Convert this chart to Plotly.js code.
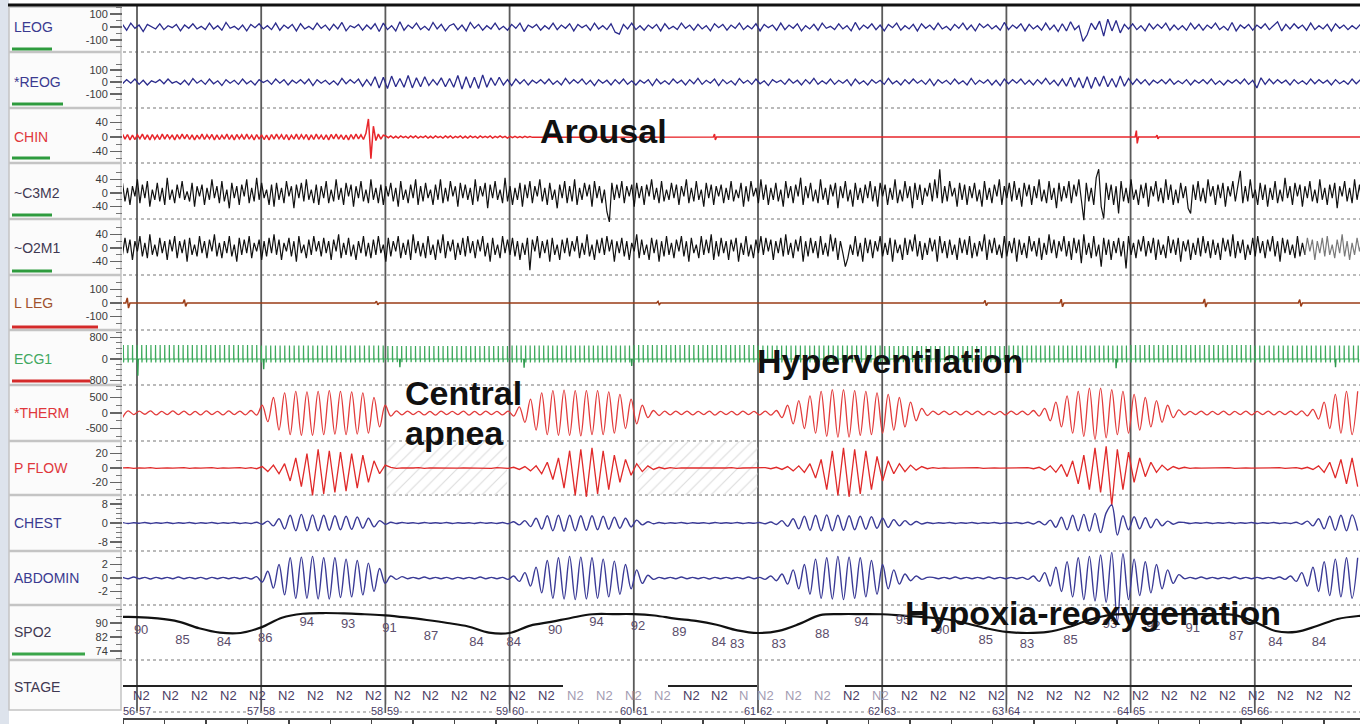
<!DOCTYPE html>
<html><head><meta charset="utf-8">
<script src="https://cdn.plot.ly/plotly-3.0.1.min.js"></script>
<style>html,body{margin:0;padding:0;background:#fff}#chart{width:1360px;height:724px}</style>
</head><body><div id="chart"></div>
<script>
const W = 1360, H = 724;
const PXS = 124.2 / 30;      // px per second of the recording
const X0PX = 137;            // px of t = 0 (first epoch line)
const tOf = px => (px - X0PX) / PXS;

// ================= DATA =================
const epochLines = [0, 30, 60, 90, 120, 150, 180, 210, 240, 270];
const pageLeft  = [56, 57, 58, 59, 60, 61, 62, 63, 64, 65];
const pageRight = [57, 58, 59, 60, 61, 62, 63, 64, 65, 66];

// sampling of the value arrays (start time, step in seconds)
const EOG_T0 = -3.5, EOG_DT = 1.0;
const EEG_T0 = -3.5, EEG_DT = 0.6;
const RESP_T0 = -3.5, RESP_DT = 1.35;
const SPO2_T0 = -5, SPO2_DT = 5;

const leog = [
20,-25,30,-10,15,-35,20,5,-15,25,-20,10,-5,20,-30,15,-10,25,-15,5,
-20,30,-15,10,-25,35,-10,5,-20,15,-30,20,-5,25,-15,10,-20,30,-25,15,
-10,20,-30,25,-15,5,-20,30,-10,15,-25,20,-15,35,-30,10,-5,20,-25,15,
-15,25,-35,30,-20,10,-30,40,-25,15,-10,30,-20,5,-25,35,-15,20,-30,10,
25,-20,15,-30,35,-10,20,-25,10,-15,30,-20,5,-25,20,-10,30,-35,15,-5,
20,-25,10,-15,30,-20,15,-10,25,-30,20,-5,15,-25,30,-15,10,-20,25,-40,
-55,20,-15,30,-20,10,-25,15,-10,20,-30,25,-15,5,-20,30,-10,15,-25,20,
-15,10,-30,25,-5,20,-25,15,-10,30,-20,10,-15,25,-30,20,-5,15,-25,30,
-20,15,-10,25,-30,10,-15,20,-25,30,-10,5,-20,25,-15,10,-30,35,-20,15,
-10,25,-20,15,-30,20,-5,30,-25,10,-15,20,-30,25,-10,15,-20,30,-15,5,
-25,20,-10,30,-20,15,-30,25,-5,20,-15,10,-25,35,-20,15,-10,25,-30,20,
-15,10,-25,30,-20,15,-35,25,-30,40,-20,10,-110,-60,30,-20,45,-70,60,-30,
50,-45,20,-15,25,-20,10,-30,25,-15,20,-10,30,-25,15,-20,10,-25,30,-15,
20,-25,15,-10,30,-20,5,-25,35,-30,15,-10,20,-25,15,-10,25,-20,10,40,
-30,20,-15,25,-10,15,-25,30,-20,10,-15,20,-30,25,-10,15,-20,10,-15,20];

const reog = [
-15,20,-10,25,-20,15,-25,10,-5,20,-15,25,-10,5,-20,15,-25,30,-10,15,
-20,25,-15,10,-30,20,-10,15,-20,25,-15,10,-25,20,-5,15,-20,25,-10,20,
-25,15,-10,20,-15,25,-30,20,-10,15,-20,10,-25,30,-15,20,-10,25,-35,20,
-30,45,-50,40,-55,50,-40,30,-45,55,-50,35,-40,45,-30,20,-25,35,-40,30,
-45,55,-60,45,-50,40,-55,60,-45,35,-30,40,-25,20,-30,25,-15,20,-25,15,
-10,20,-15,25,-20,10,-25,30,-15,20,-10,25,-20,15,-30,20,-10,15,-25,20,
-15,25,-20,10,-25,15,-10,20,-30,25,-15,10,-20,25,-10,15,-25,20,-15,30,
-20,15,-10,25,-30,20,-15,10,-25,30,-10,15,-20,25,-15,10,-30,20,-5,15,
-20,25,-10,15,-25,20,-15,30,-20,10,-15,25,-20,15,-10,20,-30,25,-15,10,
-25,20,-10,15,-20,30,-15,10,-25,20,-15,25,-10,15,-20,25,-30,20,-10,15,
-20,25,-15,10,-25,30,-20,15,-10,20,-25,15,-30,25,-15,20,-10,25,-20,15,
-25,20,-15,30,-20,15,-30,25,-35,40,-45,35,-50,45,-55,40,-35,50,-40,30,
-45,50,-35,30,-20,25,-15,20,-25,15,-10,20,-15,25,-20,10,-15,20,-25,15,
-10,20,-15,25,-20,10,-25,15,-10,20,-15,25,-20,15,-50,35,-20,25,-15,20,
-10,15,-25,20,-15,10,-20,25,-15,20,-10,15,-25,20,-15,10,-20,25,-15,20];

// chin: active (noisy) part on the EEG sampling, then quiet with a few blips
const chinActive = [
8,-6,7,-8,5,-7,6,-5,8,-7,6,-8,7,-6,5,-7,8,-6,7,-5,6,-8,7,-6,8,-5,7,-7,6,-8,
5,-6,8,-7,6,-5,7,-8,6,-7,5,-6,8,-7,6,-8,7,-5,6,-7,8,-6,5,-8,7,-6,6,-7,5,-8,
7,-6,8,-5,6,-7,7,-8,5,-6,8,-7,6,-5,7,-8,6,-7,8,-6,5,-7,6,-8,7,-5,8,-6,6,-7,
5,-8,7,-6,8,-5,6,-7,10,50,-60,30,-10,8,-6,5,
3,-2,3,-3,2,-3,3,-2,2,-3,3,-2,3,-3,2,-2,3,-3,2,-3,3,-2,2,-3,3,-2,3,-3,2,-2,
3,-3,2,-3,3,-2,2,-3,3,-2,2,-2,3,-3,2,-2,3,-2,2,-3,2,-2,2,-2,1,-2,2,-1,1,-1];
const chinEvT = [139.6, 241.5, 246.5];
const chinEvA = [8, 18, 5];

const c3m2 = [
30,-25,15,-35,20,-10,40,-30,25,-15,35,-40,10,-20,30,-25,15,-35,45,-20,
10,-30,25,-15,35,-20,5,-25,30,-40,20,-10,25,-35,15,-20,40,-15,20,-30,
35,-25,10,-45,30,-15,20,-35,25,-10,40,-30,15,-25,45,-20,30,-15,10,-35,
25,-40,30,-20,15,-30,35,-10,20,-45,25,-15,30,-25,40,-20,10,-30,25,-35,
20,-15,35,-30,10,-25,40,-20,15,-35,30,-10,25,-40,20,-15,35,-25,10,-30,
40,-20,15,-30,25,-35,20,-10,30,-25,15,-40,35,-20,10,-30,25,-15,40,-35,
20,-25,30,-15,10,-35,25,-20,40,-30,15,-25,35,-10,20,-40,30,-15,25,-20,
15,-35,40,-25,20,-10,30,-45,25,-15,35,-20,10,-30,45,-25,20,-35,15,-20,
30,-40,25,-15,35,-30,20,-10,40,-25,15,-35,30,-20,10,-45,25,-15,35,-30,
20,-25,40,-35,15,-20,30,-10,25,-40,35,-15,20,-30,10,-55,-85,30,-20,25,
-15,35,-30,20,-10,25,-40,30,-15,20,-35,25,-10,40,-20,15,-30,35,-25,10,
-20,30,-15,25,-35,20,-10,40,-30,15,-25,35,-20,10,-40,30,-15,25,-35,20,
-10,25,-30,15,-20,35,-25,10,-15,30,-40,20,-25,35,-10,15,-30,40,-20,25,
-35,15,-20,30,-25,10,-40,35,-15,20,-30,25,-10,45,-35,20,-15,30,-25,10,
-30,40,-20,15,-35,25,-10,30,-45,20,-15,35,-25,10,-40,30,-20,15,-30,25,
-15,35,-25,20,-40,30,-10,25,-35,15,-20,40,-30,10,-25,35,-15,20,-45,30,
-20,25,-35,15,-10,30,-25,40,-15,70,-30,20,-25,35,-10,15,-40,30,-20,25,
-35,20,-15,30,-25,10,-40,35,-20,15,-30,25,-10,40,-35,20,-15,30,-25,35,
-20,15,-40,30,-10,25,-35,20,-15,40,-25,10,-30,35,-20,15,-45,30,-25,20,
-15,35,-30,25,-10,40,-20,-80,30,-25,15,-35,45,70,-40,-75,30,-20,25,-35,
20,-60,35,-25,15,-30,40,-20,10,-35,25,-15,30,-40,20,-10,35,-25,15,-30,
40,-20,25,-35,10,-30,30,-15,20,-45,-60,25,-20,35,-25,15,-30,40,-10,20,
-35,25,-15,30,-40,20,-10,35,-25,15,65,-30,20,-25,40,-15,10,-35,30,-20,
25,-40,15,-20,35,-30,10,-25,45,-15,20,-35,30,-10,25,-40,20,-15,35,-25,
10,-30,40,-20,15,-35,25,-15,30,-45,20,-10,35,-25,15,-30,40,-20,25,-35];

const o2m1 = [
-20,30,-15,25,-35,20,-10,35,-25,15,-30,40,-20,10,-25,30,-15,20,-35,25,
-10,35,-30,20,-15,25,-40,30,-20,10,-25,35,-15,20,-30,25,-10,40,-25,15,
-30,20,-15,35,-25,10,-40,30,-20,25,-15,35,-30,15,-10,25,-35,20,-25,30,
-15,40,-20,25,-35,15,-10,30,-25,20,-40,35,-15,10,-30,25,-20,35,-10,20,
-25,30,-15,20,-35,25,-10,40,-30,15,-20,30,-25,10,-35,20,-15,35,-25,15,
-30,25,-20,35,-15,10,-40,30,-25,20,-10,35,-30,15,-20,25,-35,40,-15,20,
-25,15,-30,35,-20,10,-35,25,-15,40,-30,20,-10,25,-35,15,-20,30,-25,35,
-15,20,-30,25,-10,35,-25,15,-40,30,-20,10,-30,35,-15,25,-20,30,-25,20,
-35,15,-20,30,-65,25,-10,35,-30,20,-15,25,-40,30,-20,10,-35,25,-15,30,
-25,20,-10,35,-30,15,-20,40,-25,10,-35,25,-15,30,-20,35,-10,25,-40,20,
-15,30,-25,20,-35,15,-10,40,-30,25,-20,10,-35,30,-15,25,-40,20,-25,35,
-20,15,-30,25,-10,35,-25,20,-40,30,-15,10,-30,35,-20,25,-15,40,-35,20,
-25,30,-15,20,-35,25,-10,30,-40,15,-20,35,-25,10,-30,25,-15,35,-20,30,
-10,25,-35,20,-15,30,-25,40,-20,15,-30,25,-10,35,-40,20,-25,30,-15,20,
-30,35,-20,15,-25,40,-10,30,-35,20,-15,-55,-30,10,-20,35,-25,15,-40,30,
-15,25,-30,20,-10,35,-25,15,-20,30,-40,25,-15,10,-35,30,-20,25,-10,40,
-25,20,-35,15,-20,30,-10,25,-40,35,-15,20,-30,25,-20,10,-35,30,-15,25,
-20,35,-30,15,-25,20,-10,40,-35,25,-15,30,-20,10,-30,35,-25,20,-15,30,
-40,25,-20,15,-30,35,-10,20,-25,30,-35,15,-20,40,-15,25,-30,20,-10,35,
-25,20,-35,30,-15,25,-45,40,-20,15,-30,35,-25,10,-55,30,-20,25,-35,20,
-15,30,-25,20,-60,35,-20,15,-30,25,-10,35,-25,20,-15,30,-35,25,-20,10,
-30,35,-15,25,-20,30,-40,20,-10,25,-35,15,-20,30,-25,35,-15,20,-30,25,
-20,15,-35,30,-10,25,-25,40,-30,20,-15,25,-35,10,-20,30,-25,35,-15,20,
-30,25,-10,35,-25,20,-40,30,-15,25,-20,10,-30,35,-25,15,-20,30,-10,25,
-35,20,-15,30,-25,35,-20,10,-30,25,-15,40,-25,20,-35,15,-20,30,-10,25];

const legEvT = [-2.2, 11.6, 58, 126, 205, 223.4, 258, 281];
const legEvA = [38, 25, 14, 12, 20, 28, 30, 25];

const ecgHr = [54, 53, 54, 55, 54, 53, 54, 55, 54, 53];          // bpm per epoch
const ecgR  = [520, 500, 480, 500, 520, 500, 480, 500, 520, 500]; // R amplitude per epoch
const ecgArtT = [0.2, 30.6, 63.5, 93.5, 119.5, 236.5, 289.5];
const ecgArtV = [-620, -380, -300, -320, -260, -340, -300];
const ecgShapeDt = [-0.12, -0.03, 0, 0.05, 0.12];
const ecgShapeK  = [0, 0.05, 1, -0.25, 0];

const therm = [
-150,70,-50,60,-40,70,-60,50,-50,70,-50,60,-60,50,-60,70,-50,50,-60,70,-50,60,-60,80,-70,
250,-280,500,-550,650,-700,700,-720,680,-720,700,-700,720,-680,700,-700,680,-680,650,-650,500,-450,250,
-100,70,-60,60,-50,50,-60,50,-70,60,-50,50,-50,60,-70,50,-60,60,-50,50,-60,60,
-100,200,-300,450,-550,650,-700,720,-720,740,-720,720,-740,720,-700,720,-700,680,-650,600,-500,450,-350,250,-150,80,
-80,60,-60,60,-50,60,-60,50,-50,60,-70,50,-50,50,-60,60,-50,50,-60,60,-70,
80,-150,250,-350,400,-500,550,-650,700,-750,750,-780,750,-780,720,-720,700,-700,650,-650,600,-550,500,-450,350,-250,150,-80,
60,-50,60,-50,50,-60,60,-50,60,-60,50,-50,50,-60,60,-50,60,-60,80,-100,
150,-250,350,-450,550,-650,700,-750,800,-850,800,-800,750,-700,700,-650,600,-550,500,-450,400,-300,250,-150,100,
-60,50,-50,60,-60,50,-50,60,-60,50,-50,60,-60,50,-50,60,-60,50,-50,60,-60,70,-90,120,
-200,350,-500,600,-650,700,-700,700];

const pflow = [
0,0.5,-0.5,0.3,-0.3,0.5,-0.5,0,0.3,-0.3,0,0.5,-0.5,0.3,-0.3,0,0.5,-0.5,0.3,-0.3,0,0.5,-0.5,0.5,-1,
2,-5,4,-8,6,-18,14,-26,20,-38,26,-36,24,-34,22,-32,20,-28,18,-20,10,-8,4,
1,-0.5,0.3,-0.3,0,0.5,-0.5,0.3,0,-0.3,0.3,0,-0.3,0.3,0,-0.3,0.3,0,-0.5,0.5,0,-0.5,
1,-2,2,-4,3,-8,8,-16,14,-28,24,-38,26,-40,28,-36,24,-30,18,-20,12,-10,6,-5,3,-2,
1,-1,0.5,-0.5,0.3,-0.3,0,0.3,-0.3,0,0.3,-0.3,0,0.5,-0.5,0,0.3,-0.3,0,0.5,-1,
1,-2,2,-4,3,-6,6,-14,12,-30,24,-38,28,-40,26,-36,24,-30,16,-18,10,-8,6,-5,4,-3,2,-1,
0.5,-0.5,0.3,-0.3,0,0.3,-0.3,0,0.5,-0.5,0,0.3,-0.3,0,0.3,-0.3,0,0.5,-1,1,
-3,3,-6,5,-12,10,-22,18,-30,28,-34,30,-52,26,-30,22,-20,14,-12,8,-6,4,-3,2,-1,
1,-0.5,0.3,-0.3,0,0.3,-0.3,0,0.5,-0.5,0,0.3,-0.3,0,0.3,-0.3,0,0.5,-0.5,0,0.5,-1,1,-2,
3,-6,8,-14,12,-22,14,-26];

const chest = [
0.2,-0.2,0.1,-0.1,0.2,-0.2,0.1,-0.1,0.2,-0.2,0.1,-0.1,0.2,-0.2,0.1,-0.1,0.2,-0.2,0.1,-0.1,0.2,-0.2,0.1,-0.2,0.3,
-0.5,0.8,-1.2,1.8,-2.5,3.2,-3.2,3.6,-3.2,3.4,-3.2,3.2,-3,3,-2.8,2.8,-2.6,2.5,-2.2,2,-1.6,1,-0.5,
0.3,-0.2,0.2,-0.1,0.1,-0.2,0.2,-0.1,0.1,-0.1,0.2,-0.2,0.1,-0.1,0.1,-0.2,0.2,-0.1,0.1,-0.2,0.2,-0.3,
0.5,-0.8,1,-1.5,2,-2.5,3,-3.2,3.2,-3.4,3.2,-3.2,3,-3,3,-2.8,2.8,-2.6,2.4,-2.2,2,-1.6,1.2,-0.8,0.5,-0.3,
0.2,-0.2,0.1,-0.1,0.2,-0.2,0.1,-0.1,0.1,-0.2,0.2,-0.1,0.1,-0.1,0.2,-0.2,0.1,-0.1,0.2,-0.3,0.4,
-0.6,1,-1.4,1.8,-2.4,2.8,-3,3.2,-3.2,3.4,-3.2,3.2,-3,3,-2.8,2.8,-2.6,2.6,-2.2,2,-1.8,1.4,-1.2,1,-0.8,0.6,-0.4,0.2,
-0.2,0.1,-0.1,0.2,-0.2,0.1,-0.1,0.2,-0.2,0.1,-0.1,0.2,-0.2,0.1,-0.1,0.2,-0.2,0.3,-0.4,0.6,
-0.8,1.2,-1.8,2.4,-2.8,3.2,-3.2,3.6,-3.4,4,-4,4.2,7.5,-5,3,-2.8,2.6,-2.4,2.2,-2,1.6,-1.2,0.8,-0.5,0.3,
0.2,-0.2,0.1,-0.1,0.2,-0.2,0.1,-0.1,0.2,-0.2,0.1,-0.1,0.2,-0.2,0.1,-0.1,0.2,-0.2,0.1,-0.2,0.3,-0.5,0.8,-1.2,
1.8,-2.4,2.8,-3,3.2,-3.2,3.4,-3.2];

const abdomin = [
0.1,-0.1,0.15,-0.1,0.1,-0.15,0.1,-0.1,0.1,-0.1,0.15,-0.1,0.1,-0.1,0.1,-0.15,0.1,-0.1,0.1,-0.1,0.1,-0.1,0.1,-0.15,0.2,
-0.6,1,-1.5,2,-2.5,3,-3,3.1,-3,3.2,-3.1,3,-3.1,3,-2.9,2.8,-2.8,2.6,-2.5,2.2,-2,1.4,-0.8,
0.3,-0.2,0.2,-0.1,0.1,-0.1,0.15,-0.1,0.1,-0.1,0.1,-0.15,0.1,-0.1,0.1,-0.1,0.15,-0.1,0.1,-0.1,0.1,-0.2,
0.3,-0.5,0.8,-1.2,1.6,-2.2,2.6,-3,3,-3.1,3.2,-3.2,3.1,-3.1,3,-3,2.8,-2.8,2.5,-2.4,2,-1.6,1.2,-0.8,0.4,-0.2,
0.1,-0.1,0.1,-0.1,0.15,-0.1,0.1,-0.1,0.1,-0.15,0.1,-0.1,0.1,-0.1,0.1,-0.1,0.15,-0.1,0.1,-0.2,0.3,
-0.4,0.6,-0.9,1.2,-1.6,2,-2.4,2.8,-3,3,-3.1,3.2,-3.2,3.1,-3,3,-2.8,2.6,-2.4,2,-1.6,1.2,-0.9,0.6,-0.4,0.3,-0.2,0.1,
0.1,-0.1,0.1,-0.1,0.15,-0.1,0.1,-0.1,0.1,-0.1,0.15,-0.1,0.1,-0.1,0.1,-0.1,0.1,-0.2,0.3,-0.5,
0.8,-1.2,1.6,-2,2.4,-2.8,3,-3.2,3.2,-3.4,3.4,-3.6,3.8,-6.5,3.6,-3.2,2.8,-2.6,2.4,-2.2,2,-1.6,1.2,-0.8,0.5,
-0.1,0.1,-0.1,0.15,-0.1,0.1,-0.1,0.1,-0.1,0.15,-0.1,0.1,-0.1,0.1,-0.1,0.1,-0.1,0.15,-0.2,0.3,-0.5,0.8,-1.2,1.6,
-2,2.4,-2.6,2.8,-2.8,3,-3,3];

const spo2 = [93.4,93.4,92.6,90.8,87.0,84.5,84.3,87.5,93.0,95.3,95.7,95.5,95.0,94.4,93.2,91.7,
90.0,88.0,84.5,84.3,88.5,90.6,93.0,95.0,95.1,95.1,94.3,92.5,91.2,89.0,85.8,84.3,85.5,89.5,
94.5,95.1,95.1,95.0,94.2,93.4,92.3,90.0,87.1,84.9,84.3,84.9,87.7,91.7,94.6,95.1,95.1,95.1,
95.1,95.1,94.6,90.6,85.4,84.9,88.3,92.3,94.0,94.5];

const spo2LabelT = [1,11,21,31,41,51,61,71,82,91,101,111,121,131,140.5,145,155,165.5,175,185,194.5,205,215,225.5,235,245.5,255,265.5,275,285.5];
const spo2LabelV = [90,85,84,86,94,93,91,87,84,84,90,94,92,89,84,83,83,88,94,95,90,85,83,85,93,92,91,87,84,84];

const stageLabels = ['N2','N2','N2','N2','N2','N2','N2','N2','N2','N2','N2','N2','N2','N2','N2','N2','N2','N2','N2','N2','N2','N',
                     'N2','N2','N2','N2','N2','N2','N2','N2','N2','N2','N2','N2','N2','N2','N2','N2','N2','N2','N2','N2','N2'];
const stageLight = [15,16,17,18,21,22,23,24,26];

const apneaT = [74.9, 135.4];   // scored event centres (s)
const apneaDur = [29, 29];

// ================= LAYOUT HELPERS =================
const FONT = 'Liberation Sans, Arial, sans-serif';
const xp = px => px / W;
const yp = py => 1 - py / H;
const grid = (t0, dt, n) => Array.from({length: n}, (_, i) => t0 + i * dt);

const rowSep = [52,108,163,219,275,330,385,441,495,551,605,660];
const chans = [
 {label:'LEOG',   c:27,  s:0.13,  ticks:[-100,0,100], minor:[-150,-50,50,150], lc:'#3a3a90'},
 {label:'*REOG',  c:82,  s:0.118, ticks:[-100,0,100], minor:[-150,-50,50,150], lc:'#3a3a90'},
 {label:'CHIN',   c:137, s:0.36,  ticks:[-40,0,40], minor:[-60,-20,20,60], lc:'#e0383c'},
 {label:'~C3M2',  c:193, s:0.34,  ticks:[-40,0,40], minor:[-60,-20,20,60], lc:'#3f3852'},
 {label:'~O2M1',  c:248, s:0.34,  ticks:[-40,0,40], minor:[-60,-20,20,60], lc:'#3f3852'},
 {label:'L LEG',  c:303, s:0.135, ticks:[-100,0,100], minor:[-150,-50,50,150], lc:'#a0522d'},
 {label:'ECG1',   c:359, s:0.027, ticks:[-800,0,800], minor:[-1000,-600,-400,-200,200,400,600,1000], lc:'#41a85f'},
 {label:'*THERM', c:413, s:0.031, ticks:[-500,0,500], minor:[-750,-250,250,750], lc:'#e0383c'},
 {label:'P FLOW', c:468, s:0.72,  ticks:[-20,0,20], minor:[-30,-10,10,30], lc:'#e0383c'},
 {label:'CHEST',  c:523, s:2.4,   ticks:[-8,0,8], minor:[-10,-6,-4,-2,2,4,6,10], lc:'#3a3a90'},
 {label:'ABDOMIN',c:578, s:6.75,  ticks:[-2,0,2], minor:[-3,-1,1,3], lc:'#3a3a90'},
 {label:'SPO2',   c:632, top:605, bot:660, refV:90, refPx:623, s:1.75, ticks:[74,82,90], minor:[70,78,86,94,98], lc:'#3f3852'}
];
const axId = i => i === 0 ? 'y' : 'y' + (i + 1);
const axKey = i => i === 0 ? 'yaxis' : 'yaxis' + (i + 1);

const layout = {
  width: W, height: H, margin: {l:0, r:0, t:0, b:0},
  paper_bgcolor: '#ffffff', plot_bgcolor: 'rgba(0,0,0,0)', showlegend: false,
  font: {family: FONT},
  xaxis: {domain:[123/W, 1], range:[tOf(123), tOf(1360)], anchor:'free', position: yp(718),
          showline:true, linecolor:'#444', linewidth:1.5, ticks:'outside', ticklen:6, tickwidth:1.5,
          tickcolor:'#444', tick0:6.7, dtick:10, showticklabels:false, showgrid:false, zeroline:false,
          fixedrange:true, automargin:false},
  shapes: [], annotations: []
};

chans.forEach((ch, i) => {
  let top, bot, rTop, rBot;
  if (ch.top !== undefined) {
    top = ch.top; bot = ch.bot;
    rTop = ch.refV + (ch.refPx - top) / ch.s; rBot = ch.refV - (bot - ch.refPx) / ch.s;
  } else {
    top = Math.max(0, ch.c - 85); bot = Math.min(H, ch.c + 85);
    rTop = (ch.c - top) / ch.s; rBot = (ch.c - bot) / ch.s;
  }
  ch.vAt = py => ch.top !== undefined ? ch.refV + (ch.refPx - py) / ch.s : (ch.c - py) / ch.s;
  layout[axKey(i)] = {
    domain:[yp(bot), yp(top)], range:[rBot, rTop], anchor:'x',
    tickmode:'array', tickvals:ch.ticks, ticktext:ch.ticks.map(String),
    ticks:'outside', ticklen:12, tickwidth:1.5, tickcolor:'#666',
    tickfont:{family:FONT, size:11, color:'#3a3a3a'},
    minor:{tickmode:'array', tickvals:ch.minor, ticks:'outside', ticklen:6, tickwidth:1, tickcolor:'#777', showgrid:false},
    showgrid:false, zeroline:false, showline:false, fixedrange:true, automargin:false
  };
  layout.annotations.push({xref:'paper', yref:'paper', x:xp(12), y:yp(ch.c), xanchor:'left', yanchor:'middle',
    text:ch.label, showarrow:false, font:{family:FONT, size:14, color:ch.lc}});
});
// hidden axis for SpO2 value labels (2 px per % below the trace)
layout.yaxis13 = {domain:[yp(660), yp(605)], range:[75.5, 103], anchor:'x', visible:false, fixedrange:true};
layout.annotations.push({xref:'paper', yref:'paper', x:xp(12), y:yp(687), xanchor:'left', yanchor:'middle',
  text:'STAGE', showarrow:false, font:{family:FONT, size:14, color:'#3f3852'}});

// ---- shapes ----
const S = layout.shapes;
S.push({type:'rect', xref:'paper', yref:'paper', x0:0, x1:xp(9), y0:0, y1:1, fillcolor:'#dde3ec', line:{width:0}, layer:'below'});
S.push({type:'rect', xref:'paper', yref:'paper', x0:xp(9), x1:xp(121), y0:yp(710), y1:yp(7), fillcolor:'#fbfbfb', line:{color:'#c4c4c4', width:1.5}, layer:'below'});
rowSep.forEach(py => {
  S.push({type:'line', xref:'paper', yref:'paper', x0:xp(9), x1:xp(121), y0:yp(py), y1:yp(py), line:{color:'#c4c4c4', width:2.5}, layer:'below'});
  S.push({type:'line', xref:'paper', yref:'paper', x0:xp(123), x1:1, y0:yp(py), y1:yp(py), line:{color:'#a4a4a4', width:1.5, dash:'dot'}, layer:'below'});
});
S.push({type:'line', xref:'paper', yref:'paper', x0:xp(8), x1:1, y0:yp(5), y1:yp(5), line:{color:'#111', width:3}});
epochLines.forEach(t => S.push({type:'line', xref:'x', yref:'paper', x0:t, x1:t, y0:yp(713), y1:yp(6), line:{color:'#5a5a5a', width:1.8}, layer:'below'}));
[[123,563],[668,757],[845,1352]].forEach(seg => S.push({type:'line', xref:'paper', yref:'paper', x0:xp(seg[0]), x1:xp(seg[1]), y0:yp(686), y1:yp(686), line:{color:'#222', width:2}}));
S.push({type:'line', xref:'paper', yref:'paper', x0:xp(123), x1:1, y0:yp(712), y1:yp(712), line:{color:'#aaa', width:1.5, dash:'dot'}, layer:'below'});
[[49,52,'#2e9b3e'],[104,63,'#2e9b3e'],[158,50,'#2e9b3e'],[215,52,'#2e9b3e'],[271,52,'#2e9b3e'],[327,98,'#d42a2a'],[381,90,'#d42a2a'],[654,85,'#3aa54a']]
  .forEach(b => S.push({type:'line', xref:'paper', yref:'paper', x0:xp(12), x1:xp(b[1]), y0:yp(b[0]), y1:yp(b[0]), line:{color:b[2], width:3}}));

// ---- traces ----
const traces = [];
const line = (x, y, i, color, width, shape) => traces.push({type:'scatter', mode:'lines', x, y, xaxis:'x', yaxis:axId(i),
  line:{color, width, shape: shape || 'linear'}, hoverinfo:'skip', cliponaxis:false});

// hatched scored-event areas in P FLOW
traces.push({type:'bar', x:apneaT, width:apneaDur, y:apneaT.map(() => chans[8].vAt(441) - chans[8].vAt(495)),
  base:apneaT.map(() => chans[8].vAt(495)), xaxis:'x', yaxis:axId(8), hoverinfo:'skip',
  marker:{color:'rgba(0,0,0,0)', line:{width:0}, pattern:{shape:'/', fgcolor:'#dcdcdc', bgcolor:'rgba(0,0,0,0)', size:9, solidity:0.12}}});

line(grid(EOG_T0, EOG_DT, leog.length), leog, 0, '#2b2b8c', 1.3);
line(grid(EOG_T0, EOG_DT, reog.length), reog, 1, '#2b2b8c', 1.3);

// chin
{
  const x = grid(EEG_T0, EEG_DT, chinActive.length), y = chinActive.slice();
  chinEvT.forEach((t, k) => { x.push(t - 0.4, t - 0.1, t + 0.1, t + 0.4); y.push(0, chinEvA[k], -chinEvA[k], 0); });
  x.push(tOf(1362)); y.push(0);
  line(x, y, 2, '#e8262b', 1.5);
}
line(grid(EEG_T0, EEG_DT, c3m2.length), c3m2, 3, '#111', 1.2);
{
  const xs = grid(EEG_T0, EEG_DT, o2m1.length), cut = 476;
  line(xs.slice(0, cut + 1), o2m1.slice(0, cut + 1), 4, '#111', 1.2);
  line(xs.slice(cut), o2m1.slice(cut), 4, '#7a7a7a', 1.2);
}
// L LEG
{
  const x = [tOf(123)], y = [0];
  legEvT.forEach((t, k) => { x.push(t - 0.5, t - 0.15, t + 0.15, t + 0.5); y.push(0, legEvA[k], -legEvA[k], 0); });
  x.push(tOf(1362)); y.push(0);
  line(x, y, 5, '#9b3d17', 1.5);
}
// ECG
{
  const x = [], y = [];
  let t = -3.3;
  while (t < tOf(1362)) {
    const e = Math.min(9, Math.max(0, Math.floor(t / 30)));
    ecgShapeDt.forEach((d, j) => { x.push(t + d); y.push(ecgR[e] * ecgShapeK[j]); });
    t += 60 / ecgHr[e];
  }
  line(x, y, 6, '#3daa5c', 1.2);
  const ax = [], ay = [];
  ecgArtT.forEach((t, k) => { ax.push(t - 0.08, t, t + 0.1, null); ay.push(0, ecgArtV[k], 0, null); });
  line(ax, ay, 6, '#2f9a4e', 1.4);
}
line(grid(RESP_T0, RESP_DT, therm.length), therm, 7, '#e23b3b', 1.3, 'spline');
line(grid(RESP_T0, RESP_DT, pflow.length), pflow, 8, '#e02a2a', 1.3);
line(grid(RESP_T0, RESP_DT, chest.length), chest, 9, '#3a3a96', 1.4, 'spline');
line(grid(RESP_T0, RESP_DT, abdomin.length), abdomin, 10, '#3a3a96', 1.4, 'spline');
line(grid(SPO2_T0, SPO2_DT, spo2.length), spo2, 11, '#111', 2.2, 'spline');
traces.push({type:'scatter', mode:'text', x:spo2LabelT, y:spo2LabelV, text:spo2LabelV.map(String), xaxis:'x', yaxis:'y13',
  textfont:{family:FONT, size:13, color:'#5b4d6b'}, hoverinfo:'skip', cliponaxis:false});

// ---- stage row ----
const A = layout.annotations;
const stageT = [];
for (let i = 0; i < 21; i++) stageT.push(1.2 + i * 6.98);
stageT.push(146.4);
for (let i = 0; i < 21; i++) stageT.push(151.7 + i * 6.98);
stageLabels.forEach((s, i) => A.push({xref:'x', yref:'paper', x:stageT[i], y:yp(695), xanchor:'center', yanchor:'middle',
  text:s, showarrow:false, font:{family:FONT, size:13, color: stageLight.includes(i) ? '#a39cb2' : '#4a3c64'}}));
epochLines.forEach((t, m) => {
  A.push({xref:'x', yref:'paper', x:t, y:yp(711), xanchor:'right', yanchor:'middle', xshift:-1, text:String(pageLeft[m]),
    showarrow:false, font:{family:FONT, size:11, color:'#4a3c64'}, bgcolor:'#fff', borderpad:0});
  A.push({xref:'x', yref:'paper', x:t, y:yp(711), xanchor:'left', yanchor:'middle', xshift:1, text:String(pageRight[m]),
    showarrow:false, font:{family:FONT, size:11, color:'#4a3c64'}, bgcolor:'#fff', borderpad:0});
});

// ---- event annotations ----
const big = (text, pxL, pyC) => A.push({xref:'paper', yref:'paper', x:xp(pxL), y:yp(pyC), xanchor:'left', yanchor:'middle',
  text:'<b>' + text + '</b>', showarrow:false, font:{family:FONT, size:34, color:'#111'}});
big('Arousal', 538, 131);
big('Central', 403, 393);
big('apnea', 403, 433);
big('Hyperventilation', 755, 361);
big('Hypoxia-reoxygenation', 903, 613);

Plotly.newPlot('chart', traces, layout, {displayModeBar:false, staticPlot:true});
</script></body></html>
